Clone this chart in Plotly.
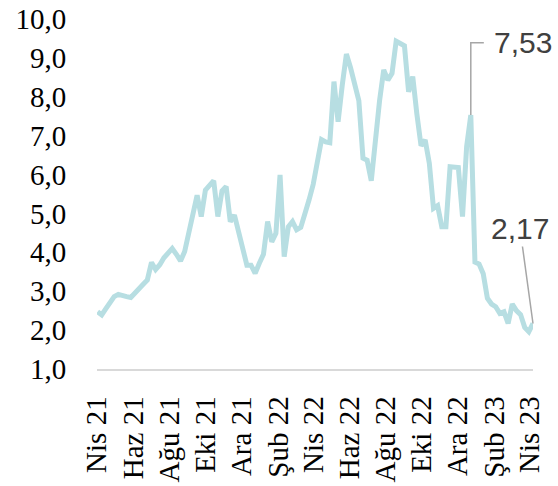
import pandas as pd
import plotly.graph_objects as go

start_date = "2021-04-02"
values = [
    2.47, 2.39, 2.55, 2.68, 2.86, 2.92, 2.88, 2.86, 2.84, 2.97,
    3.07, 3.18, 3.29, 3.74, 3.56, 3.68, 3.86, 3.98, 4.10, 3.95,
    3.78, 4.02, 4.55, 5.00, 5.47, 4.92, 5.60, 5.72, 5.84, 4.92,
    5.58, 5.69, 4.79, 4.96, 4.50, 4.05, 3.67, 3.67, 3.46, 3.72,
    3.95, 4.79, 4.27, 4.49, 5.99, 3.89, 4.66, 4.79, 4.58, 4.64,
    4.95, 5.35, 5.75, 6.30, 6.90, 6.84, 6.82, 8.39, 7.36, 8.30,
    9.10, 8.75, 8.30, 7.90, 6.42, 6.37, 5.84, 6.95, 7.90, 8.69,
    8.43, 8.60, 9.43, 9.37, 9.31, 8.13, 8.52, 7.55, 6.74, 6.89,
    6.29, 5.13, 5.20, 4.66, 4.66, 6.20, 6.20, 6.18, 4.92, 6.72,
    7.53, 3.75, 3.70, 3.45, 2.82, 2.67, 2.60, 2.43, 2.47, 2.17,
    2.67, 2.50, 2.40, 2.07, 1.96, 2.17,
]
dates = pd.date_range(start_date, periods=len(values), freq="7D")

tick_dates = pd.date_range("2021-04-01", "2023-04-01", freq="2MS")
tick_labels = ["Nis 21", "Haz 21", "Ağu 21", "Eki 21", "Ara 21", "Şub 22", "Nis 22",
               "Haz 22", "Ağu 22", "Eki 22", "Ara 22", "Şub 23", "Nis 23"]
y_ticks = [1, 2, 3, 4, 5, 6, 7, 8, 9, 10]

peak_idx = 90
last_idx = len(values) - 1

line_color = "#B7DEE2"
lead_color = "#A6A6A6"
text_color = "#404040"

fig = go.Figure()
fig.add_trace(go.Scatter(
    x=dates, y=values, mode="lines",
    line=dict(color=line_color, width=5),
    hoverinfo="skip", showlegend=False, cliponaxis=False,
))

# elbow leader line for the peak label
peak_date = dates[peak_idx]
label_y = 9.39
fig.add_trace(go.Scatter(
    x=[peak_date, peak_date, peak_date + pd.Timedelta(days=22)],
    y=[values[peak_idx], label_y, label_y],
    mode="lines", line=dict(color=lead_color, width=1.5),
    hoverinfo="skip", showlegend=False, cliponaxis=False,
))

fig.add_annotation(
    x=peak_date + pd.Timedelta(days=36), y=label_y, xref="x", yref="y",
    text=f"{values[peak_idx]:.2f}".replace(".", ","),
    showarrow=False, xanchor="left", yanchor="middle",
    font=dict(family="Liberation Sans", size=30, color=text_color),
)
fig.add_annotation(
    x=dates[last_idx], y=values[last_idx], xref="x", yref="y",
    text=f"{values[last_idx]:.2f}".replace(".", ","),
    showarrow=True, arrowhead=0, arrowwidth=1.5, arrowcolor=lead_color,
    ax=-13, ay=-95,
    font=dict(family="Liberation Sans", size=30, color=text_color),
)

fig.update_layout(
    width=558, height=486,
    margin=dict(l=97, r=25, t=19, b=117, autoexpand=False),
    paper_bgcolor="white", plot_bgcolor="white",
    separators=",.",
    font=dict(family="Liberation Serif", size=29, color="black"),
)
fig.update_xaxes(
    range=[pd.Timestamp("2021-04-01"), dates[-1]],
    tickvals=tick_dates, ticktext=tick_labels, tickangle=-90,
    showgrid=False, zeroline=False, automargin=False,
    showline=True, linecolor="#D9D9D9", linewidth=1.5,
    ticks="outside", ticklen=14, tickcolor="rgba(0,0,0,0)",
    tickfont=dict(family="Liberation Serif", size=29, color="black"),
)
fig.update_yaxes(
    range=[1, 10], tickvals=y_ticks, tickformat=".1f",
    showgrid=False, zeroline=False, showline=False, automargin=False,
    ticks="outside", ticklen=24, tickcolor="rgba(0,0,0,0)",
    tickfont=dict(family="Liberation Serif", size=29, color="black"),
)

fig.write_html("out.html", config={"displayModeBar": False},
               post_script="document.body.style.margin='0';")
